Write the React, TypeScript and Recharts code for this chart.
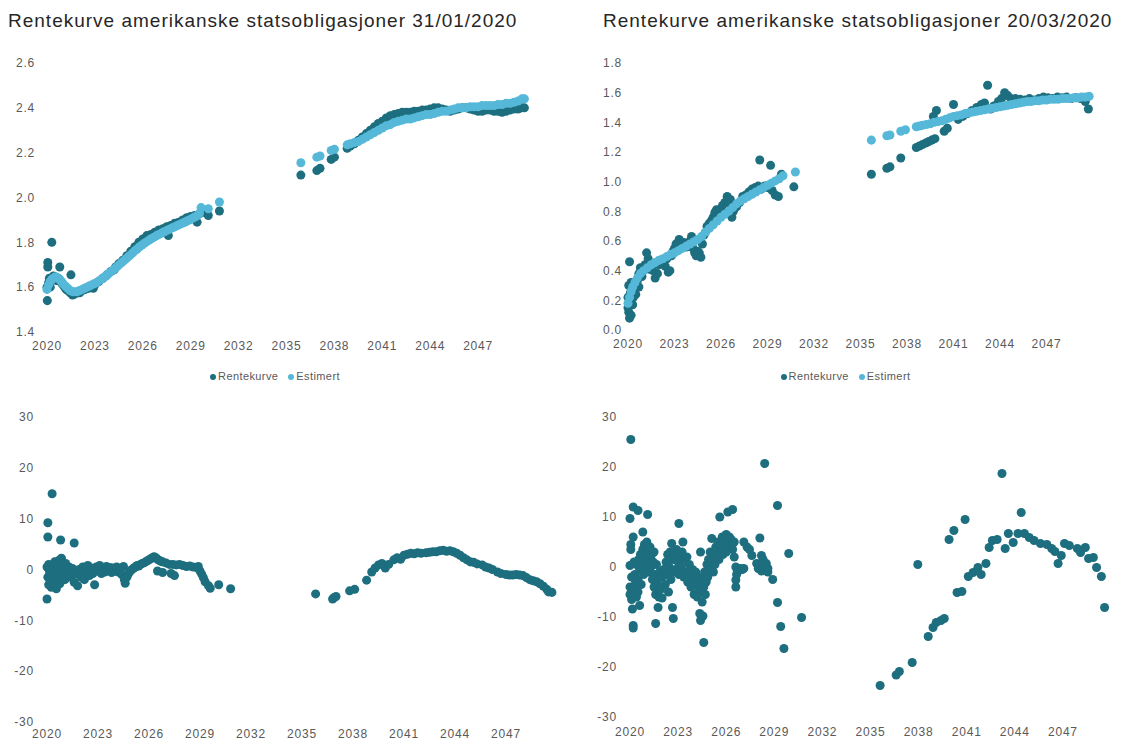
import React from "react";
import { ScatterChart, Scatter, XAxis, YAxis, ZAxis, Legend } from "recharts";

const DARK = "#1d6e7f";
const LIGHT = "#56b8d8";
const TICK = "#595959";
const FONT = "'Liberation Sans', Arial, sans-serif";

type Pt = [number, number];

const yearTicks = [2020, 2023, 2026, 2029, 2032, 2035, 2038, 2041, 2044, 2047];
const janRateTicks = [1.4, 1.6, 1.8, 2.0, 2.2, 2.4, 2.6];
const marRateTicks = [0, 0.2, 0.4, 0.6, 0.8, 1.0, 1.2, 1.4, 1.6, 1.8];
const diffTicks = [-30, -20, -10, 0, 10, 20, 30];
const legendOrder = ["Rentekurve", "Estimert"];

// 31/01/2020 - observed curve
const janRentekurve: Pt[] = [
  [2020.0, 1.6], [2020.02, 1.54], [2020.05, 1.71], [2020.05, 1.69], [2020.1, 1.62], [2020.15, 1.64],
  [2020.2, 1.6], [2020.3, 1.8], [2020.3, 1.63], [2020.4, 1.65], [2020.5, 1.64], [2020.6, 1.63],
  [2020.7, 1.64], [2020.8, 1.69], [2020.9, 1.62], [2021.0, 1.61], [2021.1, 1.6], [2021.2, 1.59],
  [2021.3, 1.585], [2021.45, 1.575], [2021.5, 1.655], [2021.6, 1.565], [2021.75, 1.57], [2021.9, 1.575],
  [2022.05, 1.575], [2022.2, 1.585], [2022.4, 1.59], [2022.6, 1.595], [2022.75, 1.6], [2022.9, 1.595],
  [2023.0, 1.61], [2023.25, 1.625], [2023.5, 1.64], [2023.75, 1.655], [2024.0, 1.67], [2024.2, 1.677],
  [2024.3, 1.69], [2024.5, 1.705], [2024.75, 1.72], [2025.0, 1.74], [2025.25, 1.76], [2025.5, 1.78],
  [2025.75, 1.8], [2026.0, 1.815], [2026.25, 1.83], [2026.5, 1.835], [2026.75, 1.845], [2027.0, 1.855],
  [2027.25, 1.86], [2027.5, 1.87], [2027.6, 1.83], [2027.75, 1.875], [2028.0, 1.885], [2028.25, 1.89],
  [2028.5, 1.9], [2028.75, 1.91], [2029.0, 1.915], [2029.25, 1.92], [2029.4, 1.89], [2029.6, 1.93],
  [2029.8, 1.935], [2030.1, 1.92], [2030.8, 1.94],
  [2035.9, 2.1], [2036.9, 2.12], [2037.1, 2.13], [2037.8, 2.17], [2038.0, 2.18], [2038.8, 2.22],
  [2039.0, 2.23], [2039.25, 2.24], [2039.5, 2.255], [2039.75, 2.27], [2040.0, 2.285], [2040.25, 2.3],
  [2040.5, 2.315], [2040.75, 2.33], [2041.0, 2.34], [2041.25, 2.355], [2041.5, 2.365], [2041.75, 2.37],
  [2042.0, 2.375], [2042.25, 2.38], [2042.5, 2.38], [2042.75, 2.38], [2043.0, 2.385], [2043.25, 2.385],
  [2043.5, 2.39], [2043.75, 2.39], [2044.0, 2.395], [2044.25, 2.4], [2044.5, 2.4], [2044.75, 2.395],
  [2045.0, 2.39], [2045.25, 2.385], [2045.5, 2.39], [2045.75, 2.395], [2046.0, 2.4], [2046.25, 2.4],
  [2046.5, 2.395], [2046.75, 2.39], [2047.0, 2.385], [2047.25, 2.385], [2047.5, 2.39], [2047.75, 2.39],
  [2048.0, 2.385], [2048.25, 2.385], [2048.5, 2.38], [2048.75, 2.385], [2049.0, 2.39], [2049.25, 2.395],
  [2049.5, 2.395], [2049.75, 2.4], [2049.9, 2.4],
];

// 31/01/2020 - estimated curve
const janEstimert: Pt[] = [
  [2020.0, 1.59], [2020.1, 1.61], [2020.2, 1.625], [2020.3, 1.635], [2020.4, 1.64], [2020.5, 1.645],
  [2020.6, 1.645], [2020.7, 1.64], [2020.8, 1.635], [2020.9, 1.625], [2021.0, 1.615], [2021.15, 1.605],
  [2021.3, 1.595], [2021.45, 1.585], [2021.6, 1.58], [2021.75, 1.58], [2021.9, 1.58], [2022.05, 1.585],
  [2022.2, 1.59], [2022.35, 1.595], [2022.5, 1.6], [2022.65, 1.605], [2022.8, 1.61], [2022.95, 1.615],
  [2023.1, 1.62], [2023.25, 1.628], [2023.4, 1.635], [2023.55, 1.643], [2023.7, 1.65], [2023.85, 1.66],
  [2024.0, 1.668], [2024.15, 1.677], [2024.3, 1.686], [2024.45, 1.695], [2024.6, 1.705], [2024.75, 1.714],
  [2024.9, 1.723], [2025.05, 1.733], [2025.2, 1.742], [2025.35, 1.752], [2025.5, 1.762], [2025.65, 1.77],
  [2025.8, 1.78], [2025.95, 1.788], [2026.1, 1.796], [2026.25, 1.803], [2026.4, 1.81], [2026.55, 1.817],
  [2026.7, 1.823], [2026.85, 1.829], [2027.0, 1.835], [2027.15, 1.84], [2027.3, 1.846], [2027.45, 1.851],
  [2027.6, 1.856], [2027.75, 1.861], [2027.9, 1.866], [2028.05, 1.871], [2028.2, 1.876], [2028.35, 1.881],
  [2028.5, 1.886], [2028.65, 1.891], [2028.8, 1.896], [2028.95, 1.901], [2029.1, 1.907], [2029.25, 1.913],
  [2029.4, 1.918], [2029.55, 1.93], [2029.65, 1.955], [2030.1, 1.95], [2030.8, 1.98],
  [2035.9, 2.155], [2036.9, 2.18], [2037.1, 2.185], [2037.8, 2.21], [2038.0, 2.215], [2038.8, 2.235],
  [2039.0, 2.24], [2039.25, 2.245], [2039.5, 2.25], [2039.75, 2.26], [2040.0, 2.27], [2040.25, 2.28],
  [2040.5, 2.29], [2040.75, 2.3], [2041.0, 2.31], [2041.25, 2.32], [2041.5, 2.325], [2041.75, 2.335],
  [2042.0, 2.34], [2042.25, 2.345], [2042.5, 2.35], [2042.75, 2.35], [2043.0, 2.355], [2043.25, 2.36],
  [2043.5, 2.365], [2043.75, 2.37], [2044.0, 2.37], [2044.25, 2.375], [2044.5, 2.38], [2044.75, 2.385],
  [2045.0, 2.385], [2045.25, 2.39], [2045.5, 2.395], [2045.75, 2.4], [2046.0, 2.4], [2046.25, 2.4],
  [2046.5, 2.405], [2046.75, 2.405], [2047.0, 2.405], [2047.25, 2.41], [2047.5, 2.41], [2047.75, 2.41],
  [2048.0, 2.41], [2048.25, 2.415], [2048.5, 2.415], [2048.75, 2.42], [2049.0, 2.42], [2049.25, 2.425],
  [2049.5, 2.43], [2049.75, 2.44], [2049.9, 2.44],
];

// 20/03/2020 - observed curve
const marRentekurve: Pt[] = [
  [2020.0, 0.22], [2020.0, 0.15], [2020.05, 0.3], [2020.05, 0.12], [2020.1, 0.46], [2020.1, 0.08],
  [2020.15, 0.25], [2020.15, 0.19], [2020.2, 0.32], [2020.2, 0.1], [2020.25, 0.28], [2020.3, 0.3],
  [2020.3, 0.17], [2020.35, 0.22], [2020.4, 0.26], [2020.5, 0.3], [2020.5, 0.24], [2020.6, 0.33],
  [2020.7, 0.38], [2020.7, 0.29], [2020.8, 0.42], [2020.9, 0.36], [2021.0, 0.4], [2021.1, 0.44],
  [2021.2, 0.52], [2021.3, 0.48], [2021.4, 0.41], [2021.5, 0.45], [2021.6, 0.4], [2021.75, 0.35],
  [2021.9, 0.38], [2022.0, 0.44], [2022.1, 0.47], [2022.25, 0.45], [2022.4, 0.43], [2022.5, 0.48],
  [2022.6, 0.39], [2022.7, 0.4], [2022.8, 0.5], [2022.9, 0.53], [2023.0, 0.55], [2023.1, 0.58],
  [2023.3, 0.61], [2023.4, 0.58], [2023.5, 0.57], [2023.6, 0.59], [2023.75, 0.56], [2023.9, 0.58],
  [2024.0, 0.6], [2024.1, 0.63], [2024.2, 0.55], [2024.3, 0.52], [2024.4, 0.5], [2024.5, 0.53],
  [2024.6, 0.52], [2024.7, 0.49], [2024.8, 0.58], [2024.9, 0.64], [2025.0, 0.66], [2025.1, 0.7],
  [2025.25, 0.72], [2025.4, 0.74], [2025.5, 0.76], [2025.6, 0.79], [2025.7, 0.81], [2025.8, 0.78],
  [2025.9, 0.8], [2026.0, 0.82], [2026.1, 0.84], [2026.25, 0.86], [2026.4, 0.9], [2026.5, 0.86],
  [2026.6, 0.88], [2026.7, 0.76], [2026.8, 0.8], [2026.9, 0.84], [2027.0, 0.83], [2027.2, 0.86],
  [2027.4, 0.9], [2027.6, 0.91], [2027.8, 0.93], [2028.0, 0.95], [2028.2, 0.96], [2028.4, 0.97],
  [2028.5, 1.146], [2028.6, 0.95], [2028.8, 0.97], [2029.0, 0.96], [2029.2, 1.11], [2029.3, 0.94],
  [2029.5, 0.91], [2029.7, 0.9], [2029.9, 1.05], [2030.7, 0.965],
  [2035.7, 1.05], [2036.7, 1.09], [2036.9, 1.1], [2037.6, 1.16], [2038.6, 1.23], [2038.8, 1.24],
  [2039.0, 1.25], [2039.2, 1.26], [2039.4, 1.27], [2039.6, 1.28], [2039.8, 1.29], [2039.7, 1.44],
  [2039.9, 1.48], [2040.4, 1.34], [2040.6, 1.36], [2041.0, 1.52], [2041.3, 1.42], [2041.6, 1.44],
  [2041.9, 1.46], [2042.2, 1.48], [2042.5, 1.5], [2042.8, 1.52], [2043.0, 1.53], [2043.2, 1.65],
  [2043.4, 1.49], [2043.6, 1.51], [2043.9, 1.54], [2044.1, 1.56], [2044.3, 1.6], [2044.5, 1.58],
  [2044.7, 1.56], [2045.0, 1.56], [2045.3, 1.555], [2045.6, 1.55], [2045.9, 1.56], [2046.2, 1.55],
  [2046.5, 1.56], [2046.8, 1.57], [2047.1, 1.565], [2047.4, 1.56], [2047.7, 1.57], [2048.0, 1.565],
  [2048.3, 1.57], [2048.6, 1.56], [2048.9, 1.565], [2049.2, 1.56], [2049.5, 1.54], [2049.7, 1.49],
];

// 20/03/2020 - estimated curve
const marEstimert: Pt[] = [
  [2020.0, 0.18], [2020.1, 0.22], [2020.2, 0.26], [2020.3, 0.29], [2020.45, 0.32], [2020.6, 0.35],
  [2020.8, 0.38], [2021.0, 0.4], [2021.25, 0.42], [2021.5, 0.44], [2021.75, 0.455], [2022.0, 0.47],
  [2022.25, 0.48], [2022.5, 0.495], [2022.75, 0.51], [2023.0, 0.52], [2023.25, 0.535], [2023.5, 0.55],
  [2023.75, 0.565], [2024.0, 0.58], [2024.25, 0.595], [2024.5, 0.61], [2024.75, 0.63], [2025.0, 0.66],
  [2025.25, 0.685], [2025.5, 0.71], [2025.75, 0.735], [2026.0, 0.76], [2026.25, 0.78], [2026.5, 0.8],
  [2026.75, 0.825], [2027.0, 0.85], [2027.25, 0.87], [2027.5, 0.885], [2027.75, 0.9], [2028.0, 0.915],
  [2028.25, 0.93], [2028.5, 0.945], [2028.75, 0.96], [2029.0, 0.975], [2029.25, 0.99], [2029.5, 1.005],
  [2029.75, 1.02], [2030.0, 1.04], [2030.8, 1.065],
  [2035.7, 1.28], [2036.7, 1.31], [2036.9, 1.315], [2037.6, 1.34], [2037.9, 1.35], [2038.6, 1.37],
  [2038.8, 1.375], [2039.0, 1.38], [2039.25, 1.385], [2039.5, 1.39], [2039.75, 1.4], [2040.0, 1.405],
  [2040.25, 1.41], [2040.5, 1.42], [2040.75, 1.43], [2041.0, 1.44], [2041.25, 1.445], [2041.5, 1.45],
  [2041.75, 1.46], [2042.0, 1.465], [2042.25, 1.47], [2042.5, 1.475], [2042.75, 1.48], [2043.0, 1.485],
  [2043.25, 1.49], [2043.5, 1.495], [2043.75, 1.5], [2044.0, 1.505], [2044.25, 1.51], [2044.5, 1.515],
  [2044.75, 1.52], [2045.0, 1.525], [2045.25, 1.53], [2045.5, 1.535], [2045.75, 1.54], [2046.0, 1.54],
  [2046.25, 1.545], [2046.5, 1.545], [2046.75, 1.55], [2047.0, 1.55], [2047.25, 1.555], [2047.5, 1.555],
  [2047.75, 1.555], [2048.0, 1.56], [2048.25, 1.56], [2048.5, 1.56], [2048.75, 1.565], [2049.0, 1.565],
  [2049.25, 1.57], [2049.5, 1.57], [2049.75, 1.575],
];

// deviation observed - estimated, basis points, 31/01/2020
const janAvvik: Pt[] = [
  [2020.0, -5.8], [2020.05, 9.2], [2020.05, 6.4], [2020.3, 14.9], [2020.8, 5.8], [2021.6, 5.2],
  [2020.0, 0.5], [2020.05, -1.5], [2020.1, -3.0], [2020.1, 1.0], [2020.15, -0.5], [2020.2, -2.0],
  [2020.2, 0.8], [2020.25, -3.5], [2020.3, -1.0], [2020.35, 0.5], [2020.4, -2.5], [2020.45, 1.5],
  [2020.5, -0.5], [2020.55, -3.8], [2020.6, 0.0], [2020.65, -1.8], [2020.7, 1.8], [2020.75, -2.8],
  [2020.8, 0.5], [2020.85, 2.2], [2020.9, -1.0], [2021.0, 0.8], [2021.05, -2.0], [2021.1, 1.2],
  [2021.2, -0.5], [2021.3, 0.5], [2021.4, -1.5], [2021.5, 0.2], [2021.6, -2.5], [2021.7, -0.8],
  [2021.8, -3.2], [2021.9, 0.0], [2022.0, -1.5], [2022.1, 0.5], [2022.2, -2.0], [2022.3, -0.5],
  [2022.4, 0.8], [2022.5, -1.2], [2022.6, 0.3], [2022.7, -0.8], [2022.8, -3.0], [2022.9, 0.5],
  [2023.0, -0.3], [2023.1, 0.8], [2023.2, -0.8], [2023.3, 0.2], [2023.4, -0.5], [2023.5, 0.6],
  [2023.6, -0.2], [2023.7, 0.4], [2023.8, -0.6], [2023.9, 0.3], [2024.0, -0.3], [2024.1, 0.5],
  [2024.2, -0.5], [2024.3, 0.2], [2024.4, -1.0], [2024.5, 0.6], [2024.55, -2.0], [2024.6, -2.7],
  [2024.7, -1.5], [2024.8, -0.8], [2024.9, -0.3], [2025.0, 0.0], [2025.1, 0.3], [2025.2, 0.5],
  [2025.3, 0.8], [2025.4, 0.7], [2025.5, 1.0], [2025.6, 1.2], [2025.7, 1.3], [2025.8, 1.5],
  [2025.9, 1.7], [2026.0, 1.9], [2026.1, 2.1], [2026.2, 2.3], [2026.3, 2.5], [2026.4, 2.3],
  [2026.5, 2.0], [2026.5, -0.3], [2026.6, 1.8], [2026.7, 1.6], [2026.8, -0.6], [2026.8, 1.5],
  [2027.0, 1.3], [2027.2, 1.0], [2027.3, -0.8], [2027.4, 1.0], [2027.5, -1.2], [2027.6, 0.9],
  [2027.8, 1.0], [2028.0, 0.8], [2028.2, 0.6], [2028.4, 0.7], [2028.6, 0.5], [2028.8, 0.4],
  [2028.9, 0.6], [2029.0, -0.3], [2029.1, -0.9], [2029.2, -1.6], [2029.3, -2.4], [2029.5, -3.2],
  [2029.6, -3.7], [2030.1, -3.0], [2030.8, -3.8],
  [2035.8, -4.8], [2036.8, -5.8], [2036.9, -5.5], [2037.0, -5.3], [2037.8, -4.2], [2038.1, -3.9],
  [2038.8, -2.1], [2039.1, -0.5], [2039.3, 0.3], [2039.5, 0.9], [2039.7, 1.2], [2039.9, 0.3],
  [2040.1, 1.0], [2040.4, 1.9], [2040.6, 2.3], [2040.8, 2.0], [2041.0, 2.8], [2041.2, 3.0],
  [2041.4, 3.2], [2041.6, 3.1], [2041.8, 3.3], [2042.0, 3.2], [2042.3, 3.3], [2042.5, 3.4],
  [2042.7, 3.5], [2042.9, 3.5], [2043.1, 3.7], [2043.3, 3.8], [2043.5, 3.6], [2043.7, 3.7],
  [2043.9, 3.5], [2044.1, 3.2], [2044.3, 2.8], [2044.5, 2.3], [2044.7, 1.9], [2044.9, 1.5],
  [2045.1, 1.4], [2045.3, 1.1], [2045.6, 0.9], [2045.8, 0.5], [2046.0, 0.3], [2046.2, 0.0],
  [2046.5, -0.5], [2046.7, -0.8], [2047.0, -1.0], [2047.2, -1.1], [2047.4, -1.1], [2047.6, -1.0],
  [2047.8, -1.1], [2048.0, -1.2], [2048.2, -1.6], [2048.4, -2.0], [2048.6, -2.2], [2048.8, -2.4],
  [2049.0, -2.8], [2049.2, -3.3], [2049.4, -3.9], [2049.5, -4.4], [2049.7, -4.5],
];

// deviation observed - estimated, basis points, 20/03/2020
const marAvvik: Pt[] = [
  [2020.0, 9.7], [2020.0, 0.3], [2020.0, -4.0], [2020.0, -5.5], [2020.05, 25.5], [2020.05, 4.5],
  [2020.05, 3.5], [2020.1, -2.0], [2020.1, -6.5], [2020.15, -8.4], [2020.2, 12.0], [2020.2, -11.7],
  [2020.2, -12.2], [2020.2, 6.0], [2020.25, 1.0], [2020.3, -1.5], [2020.3, -4.5], [2020.35, -3.0],
  [2020.4, 0.5], [2020.4, -6.0], [2020.5, 11.3], [2020.5, -2.5], [2020.5, -5.0], [2020.55, 1.5],
  [2020.6, -7.7], [2020.6, -0.5], [2020.65, 2.5], [2020.7, -3.5], [2020.75, 0.0], [2020.8, 7.0],
  [2020.8, 3.5], [2020.85, -1.5], [2020.9, 1.0], [2020.9, 4.5], [2021.0, 2.0], [2021.0, -0.5],
  [2021.05, 5.0], [2021.1, 10.5], [2021.1, 3.0], [2021.15, -1.0], [2021.2, 1.5], [2021.25, 4.0],
  [2021.3, 0.0], [2021.35, 2.5], [2021.4, -2.5], [2021.45, 1.0], [2021.5, -4.0], [2021.5, 3.0],
  [2021.55, -1.5], [2021.6, -11.3], [2021.6, -5.5], [2021.65, 0.5], [2021.7, -3.0], [2021.75, -8.1],
  [2021.8, -6.0], [2021.85, -1.0], [2021.9, -4.5], [2022.0, -6.2], [2022.0, -2.0], [2022.1, -0.5],
  [2022.2, -3.5], [2022.25, 1.0], [2022.3, -1.5], [2022.35, 2.5], [2022.4, -5.0], [2022.45, 0.0],
  [2022.5, 3.0], [2022.55, -2.5], [2022.6, 4.7], [2022.65, -8.1], [2022.7, -10.3], [2022.7, 1.5],
  [2022.75, -1.0], [2022.8, 2.0], [2022.85, -0.5], [2022.9, 3.5], [2023.0, 1.0], [2023.05, 8.7],
  [2023.05, -1.5], [2023.1, 2.5], [2023.2, 0.0], [2023.25, 3.0], [2023.3, 5.0], [2023.35, -2.0],
  [2023.4, 1.5], [2023.5, -1.0], [2023.55, 2.0], [2023.6, -3.0], [2023.7, 0.5], [2023.75, -1.5],
  [2023.8, -4.0], [2023.9, -0.5], [2024.0, -2.5], [2024.0, -5.5], [2024.1, -1.0], [2024.15, -3.5],
  [2024.2, -6.0], [2024.25, -2.0], [2024.3, -4.5], [2024.35, -9.3], [2024.4, 3.0], [2024.4, -10.7],
  [2024.45, -5.0], [2024.5, -7.0], [2024.5, -2.5], [2024.55, -9.8], [2024.6, -15.1], [2024.6, -4.0],
  [2024.65, -1.0], [2024.7, -5.5], [2024.75, -3.0], [2024.8, 0.5], [2024.85, -2.0], [2024.9, 1.5],
  [2025.0, -0.5], [2025.0, 3.0], [2025.1, 5.7], [2025.1, 1.0], [2025.2, -1.0], [2025.25, 2.5],
  [2025.3, 0.5], [2025.35, 4.0], [2025.4, 2.0], [2025.45, 3.5], [2025.5, 5.0], [2025.55, 1.5],
  [2025.6, 10.0], [2025.6, 3.0], [2025.7, 4.5], [2025.75, 6.0], [2025.8, 2.5], [2025.85, 5.5],
  [2025.9, 4.0], [2026.0, 6.5], [2026.0, 3.0], [2026.1, 11.0], [2026.1, 5.0], [2026.2, 6.0],
  [2026.25, 4.5], [2026.3, 5.5], [2026.4, 11.5], [2026.4, 3.5], [2026.5, 5.0], [2026.5, 2.0],
  [2026.6, 0.0], [2026.6, -2.6], [2026.6, -4.0], [2026.65, -1.5], [2026.7, -1.0], [2026.8, -0.5],
  [2026.9, -0.3], [2027.0, -0.5], [2027.1, 5.0], [2027.1, -0.3], [2027.3, 4.0], [2027.45, 3.5],
  [2027.6, 2.3], [2027.9, 0.7], [2028.0, -0.3], [2028.1, 5.8], [2028.2, 2.3], [2028.2, -0.8],
  [2028.3, 1.5], [2028.4, 20.7], [2028.45, 0.5], [2028.5, 0.7], [2028.6, -0.3], [2028.6, -1.0],
  [2028.9, -2.5], [2029.2, 12.3], [2029.2, -7.1], [2029.4, -11.9], [2029.6, -16.3], [2029.9, 2.7],
  [2030.7, -10.1],
  [2035.6, -23.7], [2036.6, -21.6], [2036.8, -20.9], [2037.6, -19.1], [2037.95, 0.5], [2038.6, -13.9],
  [2038.9, -12.1], [2039.1, -11.1], [2039.4, -10.7], [2039.6, -10.3], [2039.9, 5.5], [2040.2, 7.3],
  [2040.4, -5.1], [2040.7, -4.9], [2040.9, 9.5], [2041.1, -1.9], [2041.4, -1.1], [2041.7, -0.1],
  [2041.9, -1.5], [2042.2, 0.7], [2042.4, 3.9], [2042.6, 5.3], [2042.9, 5.5], [2043.2, 18.7],
  [2043.4, 3.7], [2043.6, 6.7], [2043.9, 4.9], [2044.2, 6.7], [2044.4, 10.9], [2044.6, 6.7],
  [2044.9, 5.9], [2045.2, 5.3], [2045.6, 4.7], [2046.0, 4.5], [2046.3, 3.7], [2046.5, 3.1],
  [2046.7, 0.7], [2046.9, 2.3], [2047.1, 4.7], [2047.4, 4.3], [2047.9, 3.7], [2048.1, 2.9],
  [2048.4, 3.9], [2048.6, 1.7], [2048.9, 1.9], [2049.1, -0.1], [2049.4, -1.9], [2049.6, -8.1],
];

const toRows = (pts: Pt[]) => pts.map(([x, y]) => ({ x, y }));

const tickStyle = { fontSize: 12, fill: TICK };

function Title({ text, left }: { text: string; left: number }) {
  return (
    <div
      style={{
        position: "absolute",
        left,
        top: 10,
        fontSize: 19,
        letterSpacing: "1px",
        color: "#262626",
        whiteSpace: "nowrap",
      }}
    >
      {text}
    </div>
  );
}

function RateChart(props: {
  left: number;
  width: number;
  yWidth: number;
  yMargin: number;
  rWidth: number;
  xHeight: number;
  domain: [number, number];
  ticks: number[];
  rentekurve: Pt[];
  estimert: Pt[];
}) {
  const { left, width, yWidth, yMargin, rWidth, xHeight, domain, ticks } = props;
  const fmt = (v: number) => v.toFixed(1);
  return (
    <div style={{ position: "absolute", left, top: 40 }}>
      <ScatterChart width={width} height={350} margin={{ top: 23, right: 0, bottom: 0, left: 0 }}>
        <XAxis
          type="number"
          dataKey="x"
          domain={[2020, 2050]}
          ticks={yearTicks}
          interval={0}
          axisLine={false}
          tickLine={false}
          tickSize={0}
          tickMargin={9}
          height={xHeight}
          tick={tickStyle}
        />
        <YAxis
          yAxisId="left"
          type="number"
          dataKey="y"
          domain={domain}
          ticks={ticks}
          interval={0}
          axisLine={false}
          tickLine={false}
          tickSize={0}
          tickMargin={yMargin}
          width={yWidth}
          tickFormatter={fmt}
          tick={tickStyle}
        />
        <YAxis
          yAxisId="right"
          orientation="right"
          type="number"
          dataKey="y"
          domain={domain}
          ticks={ticks}
          interval={0}
          axisLine={false}
          tickLine={false}
          tickSize={0}
          tickMargin={5}
          width={rWidth}
          tickFormatter={fmt}
          tick={tickStyle}
        />
        <ZAxis range={[30, 30]} />
        <Legend
          verticalAlign="bottom"
          height={20}
          iconType="circle"
          iconSize={6}
          itemSorter={(item: { value: string }) => legendOrder.indexOf(item.value)}
          wrapperStyle={{ fontSize: 11, letterSpacing: "0.4px" }}
          formatter={(v: string) => <span style={{ color: TICK, marginLeft: -2 }}>{v}</span>}
        />
        <Scatter
          yAxisId="left"
          name="Rentekurve"
          data={toRows(props.rentekurve)}
          fill={DARK}
          isAnimationActive={false}
        />
        <Scatter
          yAxisId="left"
          name="Estimert"
          data={toRows(props.estimert)}
          fill={LIGHT}
          isAnimationActive={false}
        />
        <Scatter
          yAxisId="right"
          data={[]}
          legendType="none"
          fill="none"
          isAnimationActive={false}
        />
      </ScatterChart>
    </div>
  );
}

function DiffChart(props: {
  left: number;
  width: number;
  right: number;
  yWidth: number;
  xHeight: number;
  xMargin: number;
  data: Pt[];
}) {
  return (
    <div style={{ position: "absolute", left: props.left, top: 400 }}>
      <ScatterChart
        width={props.width}
        height={341}
        margin={{ top: 17, right: props.right, bottom: 0, left: 0 }}
      >
        <XAxis
          type="number"
          dataKey="x"
          domain={[2020, 2050]}
          ticks={yearTicks}
          interval={0}
          axisLine={false}
          tickLine={false}
          tickSize={0}
          tickMargin={props.xMargin}
          height={props.xHeight}
          tick={tickStyle}
        />
        <YAxis
          type="number"
          dataKey="y"
          domain={[-30, 30]}
          ticks={diffTicks}
          interval={0}
          axisLine={false}
          tickLine={false}
          tickSize={0}
          tickMargin={13}
          width={props.yWidth}
          tick={tickStyle}
        />
        <ZAxis range={[32, 32]} />
        <Scatter data={toRows(props.data)} fill={DARK} isAnimationActive={false} />
      </ScatterChart>
    </div>
  );
}

export default function App() {
  return (
    <div
      style={{
        position: "absolute",
        left: 0,
        top: 0,
        width: 1121,
        height: 741,
        background: "#ffffff",
        overflow: "hidden",
        fontFamily: FONT,
        letterSpacing: "0.8px",
      }}
    >
      <Title text="Rentekurve amerikanske statsobligasjoner 31/01/2020" left={8} />
      <Title text="Rentekurve amerikanske statsobligasjoner 20/03/2020" left={603} />
      <RateChart
        left={0}
        width={560}
        yWidth={47}
        yMargin={12}
        rWidth={34}
        xHeight={38}
        domain={[1.4, 2.6]}
        ticks={janRateTicks}
        rentekurve={janRentekurve}
        estimert={janEstimert}
      />
      <RateChart
        left={580}
        width={541}
        yWidth={48}
        yMargin={6}
        rWidth={28}
        xHeight={40}
        domain={[0, 1.8]}
        ticks={marRateTicks}
        rentekurve={marRentekurve}
        estimert={marEstimert}
      />
      <DiffChart left={0} width={560} right={3} yWidth={47} xHeight={19} xMargin={7} data={janAvvik} />
      <DiffChart left={580} width={541} right={10} yWidth={50} xHeight={24} xMargin={10} data={marAvvik} />
    </div>
  );
}
